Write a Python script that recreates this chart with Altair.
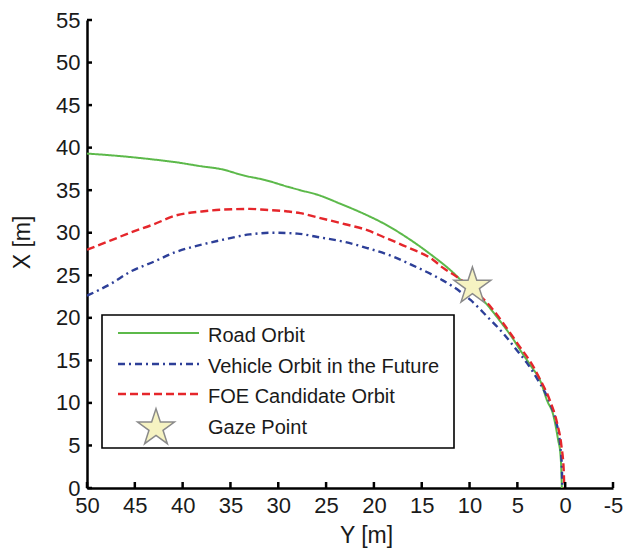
import altair as alt
import pandas as pd

# ---- data ----
road_y = [50, 47.5, 45.5, 43, 40.8, 38, 36.1, 33.5, 31.4, 29, 27.7, 26, 23.5, 21, 19, 16.5, 14, 12,
          10.5, 8.6, 7, 5.5, 4.7, 3.5, 2.6, 1.9, 1.25, 0.73, 0.5, 0.4, 0.35]
road_x = [39.3, 39.1, 38.9, 38.6, 38.3, 37.8, 37.5, 36.7, 36.2, 35.4, 35.0, 34.5, 33.4, 32.2, 31.1, 29.4,
          27.4, 25.6, 24.0, 22.1, 19.9, 17.6, 16.2, 14.2, 12.6, 10.3, 8.6, 5.6, 4.0, 2.0, 0]

foe_y = [50, 47.5, 45.5, 43, 40.8, 38, 36.1, 33, 31.4, 29, 27.7, 25.9, 23, 20.7, 19, 16.5, 13.8, 12.8,
         11.3, 9.5, 7.8, 6.5, 5.0, 3.3, 2.6, 1.6, 0.84, 0.4, 0.15, 0.1]
foe_x = [28.0, 29.1, 30.0, 31.0, 32.0, 32.5, 32.7, 32.8, 32.7, 32.5, 32.3, 31.8, 31.0, 30.3, 29.5, 28.3,
         26.8, 25.9, 24.8, 23.2, 21.3, 19.4, 17.0, 14.2, 12.7, 10.3, 7.6, 5.0, 2.0, 0]

veh_y = [50, 47.5, 45.5, 43, 40.8, 38, 36.1, 33, 30.5, 28, 25.9, 23, 20.7, 18, 16, 13.8, 12.8, 11, 9.9,
         8.2, 6.5, 5.2, 4.0, 2.8, 1.6, 1.0, 0.5, 0.35, 0.3]
veh_x = [22.6, 24.0, 25.4, 26.6, 27.7, 28.6, 29.1, 29.8, 30.0, 29.9, 29.5, 28.9, 28.2, 27.2, 26.2, 25.0,
         24.4, 23.1, 22.1, 20.2, 18.2, 16.4, 14.7, 12.6, 10.0, 8.0, 4.8, 2.5, 0]

gaze_y = [9.7]
gaze_x = [23.7]

x_ticks = [50, 45, 40, 35, 30, 25, 20, 15, 10, 5, 0, -5]
y_ticks = [0, 5, 10, 15, 20, 25, 30, 35, 40, 45, 50, 55]

legend_labels = ["Road Orbit", "Vehicle Orbit in the Future", "FOE Candidate Orbit", "Gaze Point"]

# ---- styles ----
W, H = 526, 468
FONT = "Liberation Sans"
TXT = "#1a1a1a"
GREEN, BLUE, RED = "#5cb94a", "#2d3f98", "#e5262b"
STAR_FILL, STAR_STROKE = "#f6f3c2", "#8a8a8a"
STAR = ("M0,-1L0.225,-0.309L0.951,-0.309L0.363,0.118L0.588,0.809L0,0.382"
        "L-0.588,0.809L-0.363,0.118L-0.951,-0.309L-0.225,-0.309Z")

xscale = alt.Scale(domain=[-5, 50], reverse=True, nice=False, zero=False)
yscale = alt.Scale(domain=[0, 55], nice=False, zero=False)

xaxis = alt.Axis(values=x_ticks, grid=False, ticks=False, tickSize=0, labelPadding=7,
                 labelFlush=False, labelOverlap=False, labelBound=False, title="Y [m]",
                 titlePadding=8, titleX=279,
                 labelExpr="datum.value < 0 ? '-' + abs(datum.value) : datum.label")
yaxis = alt.Axis(values=y_ticks, grid=False, ticks=False, tickSize=0, labelPadding=7,
                 labelFlush=False, labelOverlap=False, title="X [m]", titlePadding=21,
                 titleY=222)

def X(field):
    return alt.X(field, scale=xscale, axis=xaxis, title="Y [m]")

def Y(field):
    return alt.Y(field, scale=yscale, axis=yaxis, title="X [m]")

def curve(ys, xs, color, dash, width):
    df = pd.DataFrame({"Y": ys, "X": xs, "i": range(len(ys))})
    return alt.Chart(df).mark_line(color=color, strokeDash=dash, strokeWidth=width, clip=True,
                                   interpolate="monotone").encode(
        x=X("Y:Q"), y=Y("X:Q"), order="i:Q")

road = curve(road_y, road_x, GREEN, [1, 0], 2.0)
veh = curve(veh_y, veh_x, BLUE, [7, 4, 2, 4], 2.4)
foe = curve(foe_y, foe_x, RED, [8, 4], 2.4)

gaze = alt.Chart(pd.DataFrame({"Y": gaze_y, "X": gaze_x})).mark_point(
    shape=STAR, size=1500, filled=True, fill=STAR_FILL, stroke=STAR_STROKE, strokeWidth=1.5, opacity=1
).encode(x=X("Y:Q"), y=Y("X:Q"))

# inward ticks
xt = alt.Chart(pd.DataFrame({"t": x_ticks})).mark_rule(color="black", strokeWidth=2.5).encode(
    x=X("t:Q"), y=alt.value(H), y2=alt.value(H - 6))
yt = alt.Chart(pd.DataFrame({"t": y_ticks})).mark_rule(color="black", strokeWidth=2.5).encode(
    y=Y("t:Q"), x=alt.value(0), x2=alt.value(5))

# legend (drawn by hand)
lg = pd.DataFrame({"label": legend_labels})
box = alt.Chart(lg.head(1)).mark_rect(fill="white", stroke="black", strokeWidth=1.6).encode(
    x=alt.value(15), x2=alt.value(367), y=alt.value(295), y2=alt.value(428))
row_y = [313, 344, 374, 405]
def lg_line(color, dash, ry, width):
    return alt.Chart(lg.head(1)).mark_rule(color=color, strokeDash=dash, strokeWidth=width).encode(
        x=alt.value(31), x2=alt.value(112), y=alt.value(ry))
lg1 = lg_line(GREEN, [1, 0], row_y[0], 2.0)
lg2 = lg_line(BLUE, [7, 4, 2, 4], row_y[1], 2.4)
lg3 = lg_line(RED, [8, 4], row_y[2], 2.4)
lg4 = alt.Chart(lg.head(1)).mark_point(
    shape=STAR, size=1500, filled=True, fill=STAR_FILL, stroke=STAR_STROKE, strokeWidth=1.5, opacity=1
).encode(x=alt.value(69), y=alt.value(row_y[3] + 3))
texts = []
for k, lab in enumerate(legend_labels):
    texts.append(alt.Chart(pd.DataFrame({"label": [lab]})).mark_text(
        align="left", baseline="middle", font=FONT, fontSize=20, color=TXT
    ).encode(x=alt.value(121), y=alt.value(row_y[k] + 3), text="label:N"))

chart = alt.layer(road, veh, foe, xt, yt, box, lg1, lg2, lg3, lg4, *texts, gaze).properties(
    width=W, height=H,
    autosize=alt.AutoSizeParams(type="none"),
    padding={"left": 87, "top": 20, "right": 11, "bottom": 71},
    background="white",
).configure_view(stroke=None).configure_axis(
    labelFont=FONT, titleFont=FONT, labelFontSize=22, titleFontSize=23,
    labelColor=TXT, titleColor=TXT, titleFontWeight="normal",
    domainColor="black", domainWidth=2.5,
)

chart.save("out.html", embed_options={"renderer": "svg", "actions": False})
